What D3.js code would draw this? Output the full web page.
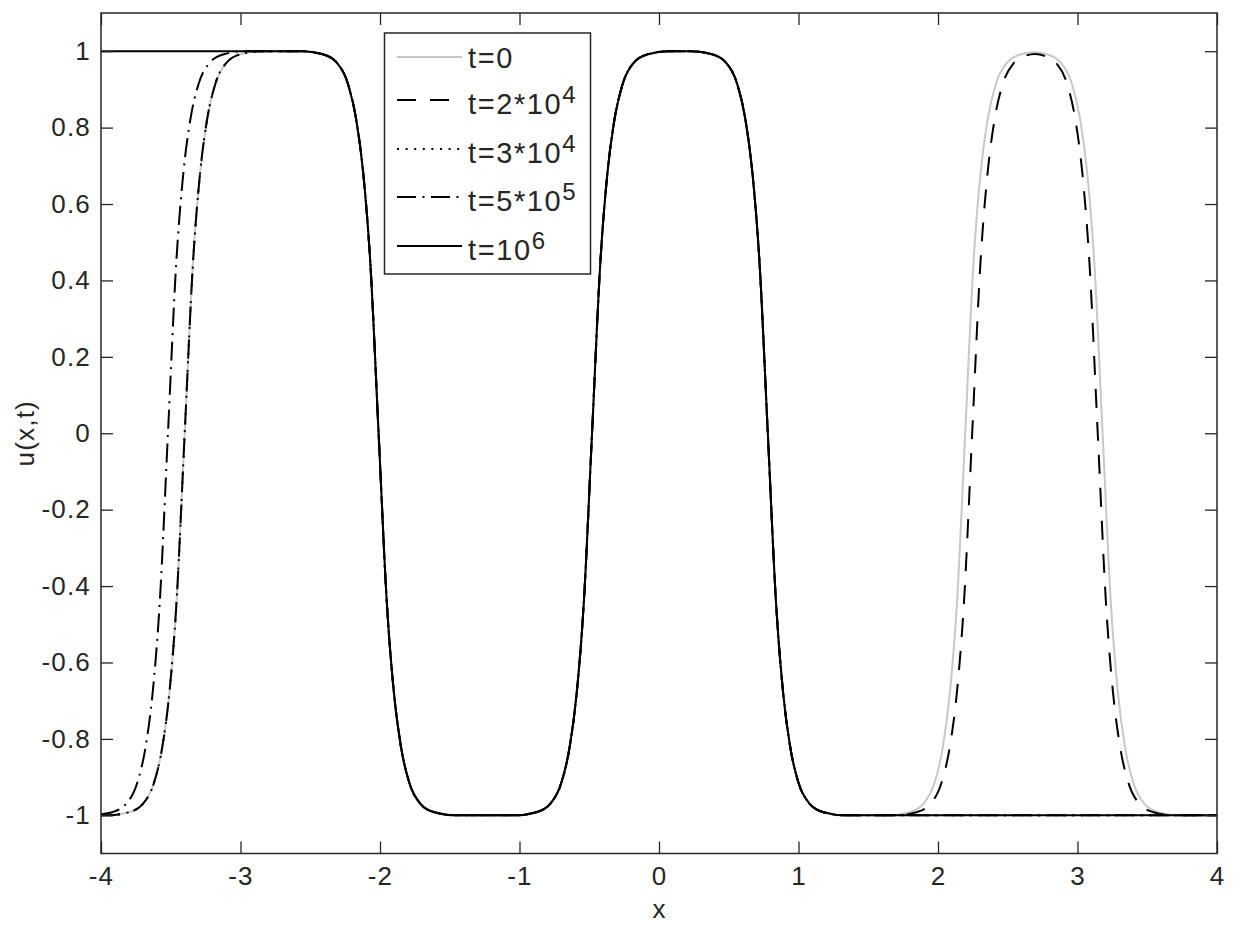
<!DOCTYPE html>
<html>
<head>
<meta charset="utf-8">
<script src="https://cdn.jsdelivr.net/npm/d3@7/dist/d3.min.js"></script>
<style>
  html, body { margin: 0; padding: 0; background: #fff; }
  svg { display: block; }
  text { font-family: "Liberation Sans", Arial, Helvetica, sans-serif; fill: #262626; }
</style>
</head>
<body>
<div id="chart"></div>
<script>
// axis ticks
const xTicks = [-4, -3, -2, -1, 0, 1, 2, 3, 4];
const yTicks = [-1, -0.8, -0.6, -0.4, -0.2, 0, 0.2, 0.4, 0.6, 0.8, 1];

// curves, [x, u] pairs
const uT0 = [
  [-4, -1], [-3.95, -1], [-3.8, -0.992], [-3.7, -0.97], [-3.62, -0.915], [-3.56, -0.82], [-3.51, -0.68], [-3.46, -0.45],
  [-3.4, 0], [-3.34, 0.45], [-3.29, 0.68], [-3.24, 0.82], [-3.18, 0.915], [-3.1, 0.97], [-3.0, 0.992], [-2.85, 1],
  [-2.56, 1], [-2.41, 0.992], [-2.31, 0.97], [-2.23, 0.915], [-2.17, 0.82], [-2.12, 0.68], [-2.07, 0.45],
  [-2.01, 0], [-1.95, -0.45], [-1.9, -0.68], [-1.85, -0.82], [-1.79, -0.915], [-1.71, -0.97], [-1.61, -0.992], [-1.46, -1],
  [-1.03, -1], [-0.88, -0.992], [-0.78, -0.97], [-0.7, -0.915], [-0.64, -0.82], [-0.59, -0.68], [-0.54, -0.45],
  [-0.48, 0], [-0.42, 0.45], [-0.37, 0.68], [-0.32, 0.82], [-0.26, 0.915], [-0.18, 0.97], [-0.08, 0.992], [0.07, 1],
  [0.23, 1], [0.38, 0.992], [0.48, 0.97], [0.56, 0.915], [0.62, 0.82], [0.67, 0.68], [0.72, 0.45],
  [0.78, 0], [0.84, -0.45], [0.89, -0.68], [0.94, -0.82], [1.0, -0.915], [1.08, -0.97], [1.18, -0.992], [1.33, -1],
  [1.645, -1], [1.795, -0.992], [1.895, -0.97], [1.975, -0.915], [2.035, -0.82], [2.085, -0.68], [2.135, -0.45],
  [2.195, 0], [2.255, 0.45], [2.305, 0.68], [2.355, 0.82], [2.415, 0.915], [2.495, 0.97], [2.595, 0.992],
  [2.6875, 0.997],
  [2.78, 0.992], [2.88, 0.97], [2.96, 0.915], [3.02, 0.82], [3.07, 0.68], [3.12, 0.45],
  [3.18, 0], [3.24, -0.45], [3.29, -0.68], [3.34, -0.82], [3.4, -0.915], [3.48, -0.97], [3.58, -0.992], [3.73, -1], [4, -1]
];

const uT2e4 = [
  [-4, -1], [-3.95, -1], [-3.8, -0.992], [-3.7, -0.97], [-3.62, -0.915], [-3.56, -0.82], [-3.51, -0.68], [-3.46, -0.45],
  [-3.4, 0], [-3.34, 0.45], [-3.29, 0.68], [-3.24, 0.82], [-3.18, 0.915], [-3.1, 0.97], [-3.0, 0.992], [-2.85, 1],
  [-2.56, 1], [-2.41, 0.992], [-2.31, 0.97], [-2.23, 0.915], [-2.17, 0.82], [-2.12, 0.68], [-2.07, 0.45],
  [-2.01, 0], [-1.95, -0.45], [-1.9, -0.68], [-1.85, -0.82], [-1.79, -0.915], [-1.71, -0.97], [-1.61, -0.992], [-1.46, -1],
  [-1.03, -1], [-0.88, -0.992], [-0.78, -0.97], [-0.7, -0.915], [-0.64, -0.82], [-0.59, -0.68], [-0.54, -0.45],
  [-0.48, 0], [-0.42, 0.45], [-0.37, 0.68], [-0.32, 0.82], [-0.26, 0.915], [-0.18, 0.97], [-0.08, 0.992], [0.07, 1],
  [0.23, 1], [0.38, 0.992], [0.48, 0.97], [0.56, 0.915], [0.62, 0.82], [0.67, 0.68], [0.72, 0.45],
  [0.78, 0], [0.84, -0.45], [0.89, -0.68], [0.94, -0.82], [1.0, -0.915], [1.08, -0.97], [1.18, -0.992], [1.33, -1],
  [1.695, -1], [1.845, -0.992], [1.945, -0.97], [2.025, -0.915], [2.085, -0.82], [2.135, -0.68], [2.185, -0.45],
  [2.245, 0], [2.305, 0.45], [2.355, 0.68], [2.405, 0.82], [2.465, 0.915], [2.545, 0.97], [2.62, 0.987],
  [2.695, 0.993],
  [2.77, 0.987], [2.845, 0.97], [2.925, 0.915], [2.985, 0.82], [3.035, 0.68], [3.085, 0.45],
  [3.145, 0], [3.205, -0.45], [3.255, -0.68], [3.305, -0.82], [3.365, -0.915], [3.445, -0.97], [3.545, -0.992], [3.695, -1], [4, -1]
];

const uT3e4 = [
  [-4, -1], [-3.95, -1], [-3.8, -0.992], [-3.7, -0.97], [-3.62, -0.915], [-3.56, -0.82], [-3.51, -0.68], [-3.46, -0.45],
  [-3.4, 0], [-3.34, 0.45], [-3.29, 0.68], [-3.24, 0.82], [-3.18, 0.915], [-3.1, 0.97], [-3.0, 0.992], [-2.85, 1],
  [-2.56, 1], [-2.41, 0.992], [-2.31, 0.97], [-2.23, 0.915], [-2.17, 0.82], [-2.12, 0.68], [-2.07, 0.45],
  [-2.01, 0], [-1.95, -0.45], [-1.9, -0.68], [-1.85, -0.82], [-1.79, -0.915], [-1.71, -0.97], [-1.61, -0.992], [-1.46, -1],
  [-1.03, -1], [-0.88, -0.992], [-0.78, -0.97], [-0.7, -0.915], [-0.64, -0.82], [-0.59, -0.68], [-0.54, -0.45],
  [-0.48, 0], [-0.42, 0.45], [-0.37, 0.68], [-0.32, 0.82], [-0.26, 0.915], [-0.18, 0.97], [-0.08, 0.992], [0.07, 1],
  [0.23, 1], [0.38, 0.992], [0.48, 0.97], [0.56, 0.915], [0.62, 0.82], [0.67, 0.68], [0.72, 0.45],
  [0.78, 0], [0.84, -0.45], [0.89, -0.68], [0.94, -0.82], [1.0, -0.915], [1.08, -0.97], [1.18, -0.992], [1.33, -1],
  [4, -1]
];

const uT5e5 = [
  [-4, -0.997], [-3.92, -0.992], [-3.82, -0.97], [-3.74, -0.915], [-3.68, -0.82], [-3.63, -0.68], [-3.58, -0.45],
  [-3.52, 0], [-3.46, 0.45], [-3.41, 0.68], [-3.36, 0.82], [-3.3, 0.915], [-3.22, 0.97], [-3.12, 0.992], [-2.97, 1],
  [-2.56, 1], [-2.41, 0.992], [-2.31, 0.97], [-2.23, 0.915], [-2.17, 0.82], [-2.12, 0.68], [-2.07, 0.45],
  [-2.01, 0], [-1.95, -0.45], [-1.9, -0.68], [-1.85, -0.82], [-1.79, -0.915], [-1.71, -0.97], [-1.61, -0.992], [-1.46, -1],
  [-1.03, -1], [-0.88, -0.992], [-0.78, -0.97], [-0.7, -0.915], [-0.64, -0.82], [-0.59, -0.68], [-0.54, -0.45],
  [-0.48, 0], [-0.42, 0.45], [-0.37, 0.68], [-0.32, 0.82], [-0.26, 0.915], [-0.18, 0.97], [-0.08, 0.992], [0.07, 1],
  [0.23, 1], [0.38, 0.992], [0.48, 0.97], [0.56, 0.915], [0.62, 0.82], [0.67, 0.68], [0.72, 0.45],
  [0.78, 0], [0.84, -0.45], [0.89, -0.68], [0.94, -0.82], [1.0, -0.915], [1.08, -0.97], [1.18, -0.992], [1.33, -1],
  [4, -1]
];

const uT1e6 = [
  [-4, 1],
  [-2.56, 1], [-2.41, 0.992], [-2.31, 0.97], [-2.23, 0.915], [-2.17, 0.82], [-2.12, 0.68], [-2.07, 0.45],
  [-2.01, 0], [-1.95, -0.45], [-1.9, -0.68], [-1.85, -0.82], [-1.79, -0.915], [-1.71, -0.97], [-1.61, -0.992], [-1.46, -1],
  [-1.03, -1], [-0.88, -0.992], [-0.78, -0.97], [-0.7, -0.915], [-0.64, -0.82], [-0.59, -0.68], [-0.54, -0.45],
  [-0.48, 0], [-0.42, 0.45], [-0.37, 0.68], [-0.32, 0.82], [-0.26, 0.915], [-0.18, 0.97], [-0.08, 0.992], [0.07, 1],
  [0.23, 1], [0.38, 0.992], [0.48, 0.97], [0.56, 0.915], [0.62, 0.82], [0.67, 0.68], [0.72, 0.45],
  [0.78, 0], [0.84, -0.45], [0.89, -0.68], [0.94, -0.82], [1.0, -0.915], [1.08, -0.97], [1.18, -0.992], [1.33, -1],
  [4, -1]
];

// legend labels: base text + superscript
const labels = [["t=0", ""], ["t=2*10", "4"], ["t=3*10", "4"], ["t=5*10", "5"], ["t=10", "6"]];

const series = [
  { data: uT0,   color: "#c8c8c8", dash: null },
  { data: uT2e4, color: "#000", dash: "19,14" },
  { data: uT3e4, color: "#000", dash: "2,6.6" },
  { data: uT5e5, color: "#000", dash: "19,6.5,2,6.5" },
  { data: uT1e6, color: "#000", dash: null }
];

const W = 1243, H = 926;
const margin = { left: 101, right: 26, top: 13, bottom: 72.5 };
const x0 = margin.left, x1 = W - margin.right, y0 = margin.top, y1 = H - margin.bottom;

const svg = d3.select("#chart").append("svg")
  .attr("width", W).attr("height", H);

const x = d3.scaleLinear().domain([-4, 4]).range([x0, x1]);
const y = d3.scaleLinear().domain([-1.1, 1.1]).range([y1, y0]);

svg.append("defs").append("clipPath").attr("id", "clip")
  .append("rect").attr("x", x0).attr("y", y0).attr("width", x1 - x0).attr("height", y1 - y0);

// curves
const line = d3.line()
  .x(d => x(d[0]))
  .y(d => y(d[1]))
  .curve(d3.curveMonotoneX);

const plot = svg.append("g").attr("clip-path", "url(#clip)");
series.forEach(s => {
  plot.append("path")
    .attr("d", line(s.data))
    .attr("fill", "none")
    .attr("stroke", s.color)
    .attr("stroke-width", 2)
    .attr("stroke-dasharray", s.dash);
});

// axes, ticks pointing inward, on all four sides
const tick = 12;
const fmt = d => String(+d.toFixed(1));   // plain hyphen minus, like the original
const styleAxis = g => {
  g.select(".domain").remove();
  g.selectAll(".tick line").attr("stroke", "#262626").attr("stroke-width", 1.3);
  g.selectAll(".tick text")
    .attr("fill", "#262626")
    .style("font-size", "26px")
    .style("letter-spacing", "1.2px")
    .style("font-family", '"Liberation Sans", Arial, sans-serif');
};

svg.append("g").attr("transform", `translate(0,${y1})`)
  .call(d3.axisBottom(x).tickValues(xTicks).tickSize(-tick).tickPadding(13).tickFormat(fmt))
  .call(styleAxis)
  .call(g => g.selectAll(".tick text").attr("dy", "0.71em"));

svg.append("g").attr("transform", `translate(${x0},0)`)
  .call(d3.axisLeft(y).tickValues(yTicks).tickSize(-tick).tickPadding(10).tickFormat(fmt))
  .call(styleAxis);

svg.append("g").attr("transform", `translate(0,${y0})`)
  .call(d3.axisTop(x).tickValues(xTicks).tickSize(-tick).tickFormat(""))
  .call(styleAxis);

svg.append("g").attr("transform", `translate(${x1},0)`)
  .call(d3.axisRight(y).tickValues(yTicks).tickSize(-tick).tickFormat(""))
  .call(styleAxis);

svg.append("rect")
  .attr("x", x0).attr("y", y0).attr("width", x1 - x0).attr("height", y1 - y0)
  .attr("fill", "none").attr("stroke", "#262626").attr("stroke-width", 1.5);

// axis labels
svg.append("text")
  .attr("x", (x0 + x1) / 2).attr("y", 918)
  .attr("text-anchor", "middle")
  .style("font-size", "26px")
  .text("x");

svg.append("text")
  .attr("transform", `translate(34,${(y0 + y1) / 2}) rotate(-90)`)
  .attr("text-anchor", "middle")
  .style("font-size", "26px")
  .style("letter-spacing", "1.2px")
  .text("u(x,t)");

// legend
const lg = svg.append("g");
lg.append("rect")
  .attr("x", 384.5).attr("y", 33).attr("width", 206).attr("height", 241)
  .attr("fill", "#fff").attr("stroke", "#262626").attr("stroke-width", 1.5);

const rowY = [57, 100, 149, 197, 246];
series.forEach((s, i) => {
  lg.append("line")
    .attr("x1", 397).attr("x2", 462)
    .attr("y1", rowY[i]).attr("y2", rowY[i])
    .attr("stroke", s.color)
    .attr("stroke-width", 2)
    .attr("stroke-dasharray", s.dash);
  const hasSup = labels[i][1] !== "";
  const t = lg.append("text")
    .attr("x", 468)
    .attr("y", rowY[i] + (hasSup ? 14 : 11))
    .style("font-size", "29px")
    .style("letter-spacing", "1.6px");
  t.append("tspan").text(labels[i][0]);
  if (hasSup) {
    t.append("tspan").attr("dy", -11).style("font-size", "24px").text(labels[i][1]);
  }
});
</script>
</body>
</html>
